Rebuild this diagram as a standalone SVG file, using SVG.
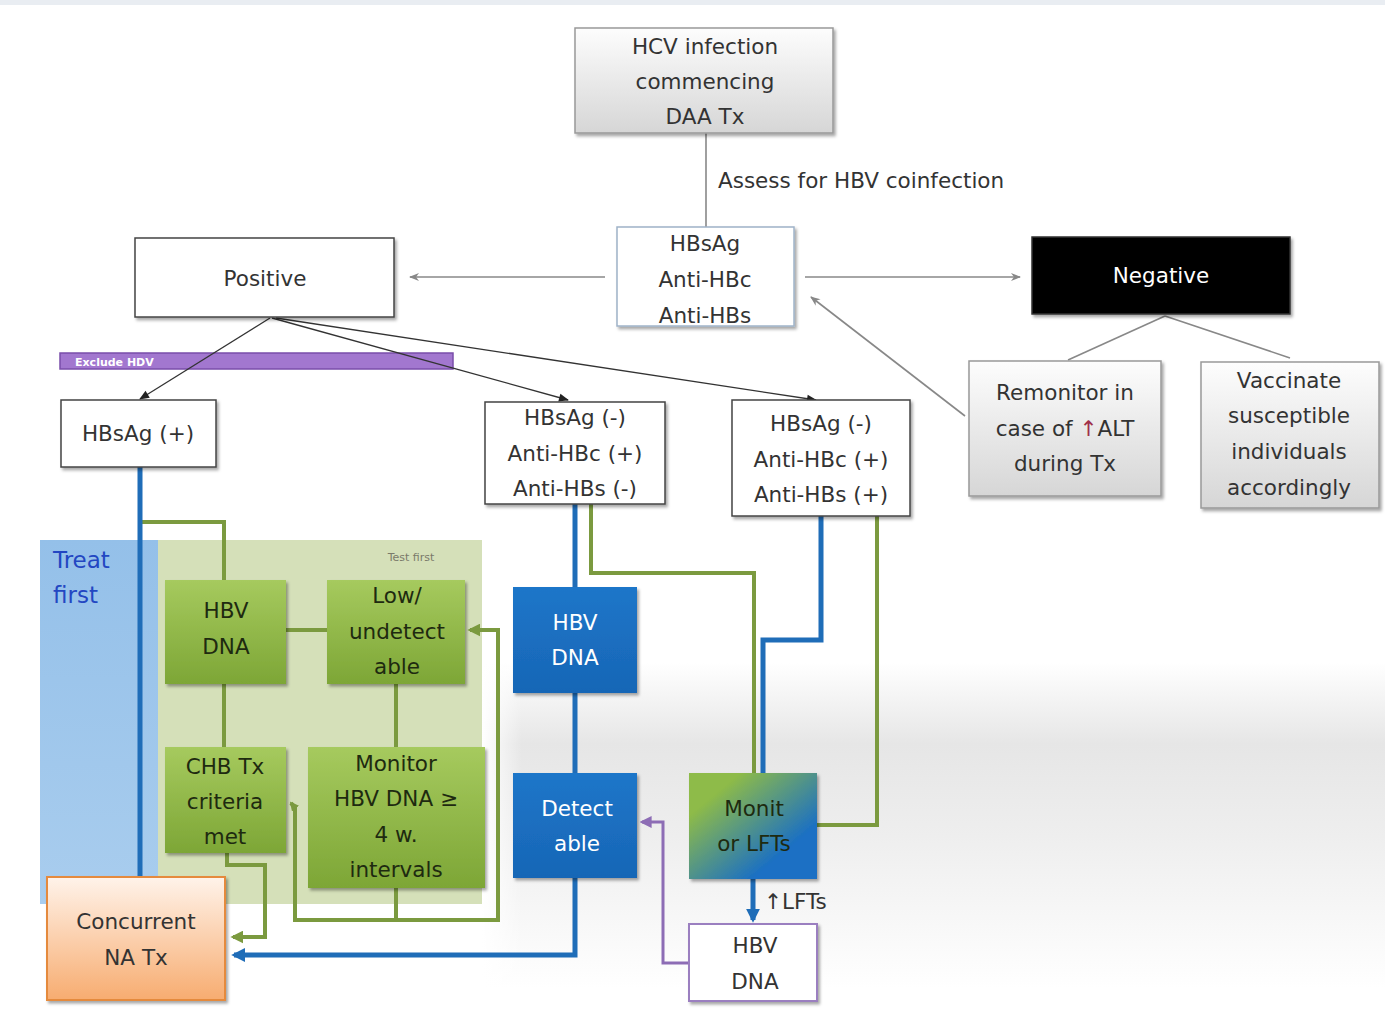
<svg xmlns="http://www.w3.org/2000/svg" width="1385" height="1019" viewBox="0 0 1385 1019">
<defs>
<style>
.t{font-family:"DejaVu Sans",Verdana,sans-serif;font-size:21.5px;fill:#333;text-anchor:middle}
.w{fill:#fff}
.dk{fill:#1e2a10}
.box{fill:#fff;stroke:#444;stroke-width:1.5}
.gbox{fill:url(#gGray);stroke:#999;stroke-width:1.5}
.grn{fill:url(#gGreen)}
.blu{fill:url(#gBlue)}
.cg{fill:none;stroke:#888;stroke-width:1.6}
.ck{fill:none;stroke:#333;stroke-width:1.3}
.cb{fill:none;stroke:#1f6db8;stroke-width:5}
.cn{fill:none;stroke:#7b9a3f;stroke-width:4}
.cp{fill:none;stroke:#8d6db5;stroke-width:3}
</style>
<linearGradient id="bg" x1="0" y1="0" x2="0" y2="1">
<stop offset="0" stop-color="#fff"/><stop offset="0.65" stop-color="#fff"/><stop offset="0.73" stop-color="#e6e6e6"/><stop offset="0.82" stop-color="#eeeeee"/><stop offset="0.9" stop-color="#f7f7f7"/><stop offset="0.97" stop-color="#fff"/>
</linearGradient>
<linearGradient id="fadeL" x1="0" y1="0" x2="1" y2="0"><stop offset="0" stop-color="#fff" stop-opacity="1"/><stop offset="1" stop-color="#fff" stop-opacity="0"/></linearGradient>
<linearGradient id="gGray" x1="0" y1="0" x2="0" y2="1"><stop offset="0" stop-color="#fdfdfd"/><stop offset="1" stop-color="#d6d6d6"/></linearGradient>
<linearGradient id="gGreen" x1="0" y1="0" x2="0" y2="1"><stop offset="0" stop-color="#a6ca5e"/><stop offset="1" stop-color="#7da636"/></linearGradient>
<linearGradient id="gBlue" x1="0" y1="0" x2="0" y2="1"><stop offset="0" stop-color="#1e76c9"/><stop offset="1" stop-color="#1766b6"/></linearGradient>
<linearGradient id="gOrange" x1="0" y1="0" x2="0" y2="1"><stop offset="0" stop-color="#fff3ea"/><stop offset="1" stop-color="#f7ac70"/></linearGradient>
<linearGradient id="gMix" x1="0" y1="0" x2="1" y2="1"><stop offset="0.2" stop-color="#8ebb48"/><stop offset="0.75" stop-color="#1a6fc4"/></linearGradient>
<linearGradient id="gTreat" x1="0" y1="0" x2="0" y2="1"><stop offset="0" stop-color="#94c0e9"/><stop offset="1" stop-color="#a9cdee"/></linearGradient>
<filter id="sh" x="-10%" y="-10%" width="130%" height="130%"><feDropShadow dx="2" dy="2.5" stdDeviation="1.5" flood-color="#000" flood-opacity="0.35"/></filter>
<marker id="aG" viewBox="0 0 10 10" refX="9" refY="5" markerWidth="13" markerHeight="10" orient="auto" markerUnits="userSpaceOnUse"><path d="M0,1 L10,5 L0,9 L3,5 z" fill="#888"/></marker>
<marker id="aK" viewBox="0 0 10 10" refX="9" refY="5" markerWidth="12" markerHeight="10" orient="auto" markerUnits="userSpaceOnUse"><path d="M0,1 L10,5 L0,9 z" fill="#222"/></marker>
<marker id="aB" viewBox="0 0 10 10" refX="8" refY="5" markerWidth="14" markerHeight="14" orient="auto" markerUnits="userSpaceOnUse"><path d="M0,0 L10,5 L0,10 z" fill="#1f6db8"/></marker>
<marker id="aN" viewBox="0 0 10 10" refX="8" refY="5" markerWidth="13" markerHeight="13" orient="auto" markerUnits="userSpaceOnUse"><path d="M0,0 L10,5 L0,10 z" fill="#7b9a3f"/></marker>
<marker id="aNs" viewBox="0 0 10 10" refX="8" refY="5" markerWidth="9" markerHeight="9" orient="auto" markerUnits="userSpaceOnUse"><path d="M0,0 L10,5 L0,10 z" fill="#7b9a3f"/></marker>
<marker id="aP" viewBox="0 0 10 10" refX="8" refY="5" markerWidth="12" markerHeight="12" orient="auto" markerUnits="userSpaceOnUse"><path d="M0,0 L10,5 L0,10 z" fill="#8d6db5"/></marker>
</defs>

<g id="background">
<rect x="0" y="0" width="1385" height="1019" fill="#fff"/>
<rect x="482" y="0" width="903" height="1019" fill="url(#bg)"/>
<rect x="482" y="0" width="40" height="1019" fill="url(#fadeL)"/>
<rect x="0" y="0" width="1385" height="5" fill="#e9edf2"/>
</g>

<g id="panels">
<rect id="treat-first" x="40" y="540" width="118" height="364" fill="url(#gTreat)"/>
<text x="53" y="568" style="font-family:'DejaVu Sans',Verdana,sans-serif;font-size:23px;fill:#2347c2">Treat</text>
<text x="53" y="603" style="font-family:'DejaVu Sans',Verdana,sans-serif;font-size:23px;fill:#2347c2">first</text>
<rect id="test-first" x="158" y="540" width="324" height="364" fill="#d5e0b9"/>
<text x="411" y="561" style="font-family:'DejaVu Sans',Verdana,sans-serif;font-size:11px;fill:#7a7a6a;text-anchor:middle">Test first</text>
<g id="exclude-hdv">
<rect x="60" y="353" width="393" height="16" fill="#a277cf" stroke="#7a4eaa" stroke-width="1.5"/>
<text x="75" y="366" style="font-family:'DejaVu Sans',Verdana,sans-serif;font-size:11px;font-weight:bold;fill:#fff">Exclude HDV</text>
</g>
</g>

<g id="connectors">
<path class="cg" d="M706,133 V227"/>
<path class="cg" d="M605,277 H410" marker-end="url(#aG)"/>
<path class="cg" d="M805,277 H1020" marker-end="url(#aG)"/>
<path class="cg" d="M965,416 L811,297" marker-end="url(#aG)"/>
<path class="cg" d="M1165,316 L1068,360"/>
<path class="cg" d="M1165,316 L1290,358"/>
<path class="ck" d="M270,318 L140,399" marker-end="url(#aK)"/>
<path class="ck" d="M272,318 L568,400" marker-end="url(#aK)"/>
<path class="ck" d="M276,318 L816,400" marker-end="url(#aK)"/>
<path class="cn" d="M140,522 H224 V580"/>
<path class="cb" d="M140,467 V877"/>
<path class="cn" d="M286,630 H327"/>
<path class="cn" d="M224,684 V747"/>
<path class="cn" d="M396,684 V747"/>
<path class="cn" d="M227,853 V865 H265 V937 H233" marker-end="url(#aN)"/>
<path class="cn" d="M396,888 V920 H498 V630 H470" marker-end="url(#aN)"/>
<path class="cn" d="M396,920 H295 V808 L291,803" marker-end="url(#aNs)"/>
<path class="cb" d="M575,504 V587"/>
<path class="cb" d="M575,693 V773"/>
<path class="cb" d="M575,878 V955 H234" marker-end="url(#aB)"/>
<path class="cn" d="M591,504 V573 H754 V773"/>
<path class="cb" d="M821,516 V640 H763 V773"/>
<path class="cn" d="M877,516 V825 H817"/>
<path class="cb" d="M753,879 V920" marker-end="url(#aB)"/>
<path class="cp" d="M689,963 H663 V822 H642" marker-end="url(#aP)"/>
</g>

<g id="hcv">
<rect class="gbox" x="575" y="28" width="258" height="105" filter="url(#sh)"/>
<text class="t" x="705" y="54">HCV infection</text>
<text class="t" x="705" y="89">commencing</text>
<text class="t" x="705" y="124">DAA Tx</text>
</g>
<text class="t" x="718" y="188" style="text-anchor:start">Assess for HBV coinfection</text>

<g id="serology">
<rect x="617" y="227" width="177" height="99" fill="#fff" stroke="#9fb3c8" stroke-width="1.5" filter="url(#sh)"/>
<text class="t" x="705" y="251">HBsAg</text>
<text class="t" x="705" y="287">Anti-HBc</text>
<text class="t" x="705" y="323">Anti-HBs</text>
</g>

<g id="positive">
<rect class="box" x="135" y="238" width="259" height="79" filter="url(#sh)"/>
<text class="t" x="265" y="286">Positive</text>
</g>

<g id="negative">
<rect x="1032" y="237" width="258" height="77" fill="#000" stroke="#333" stroke-width="1.5" filter="url(#sh)"/>
<text class="t w" x="1161" y="283">Negative</text>
</g>

<g id="remonitor">
<rect class="gbox" x="969" y="361" width="192" height="135" filter="url(#sh)"/>
<text class="t" x="1065" y="400">Remonitor in</text>
<text class="t" x="1065" y="436">case of <tspan fill="#a0304a">↑</tspan>ALT</text>
<text class="t" x="1065" y="471">during Tx</text>
</g>

<g id="vaccinate">
<rect class="gbox" x="1201" y="362" width="178" height="146" filter="url(#sh)"/>
<text class="t" x="1289" y="388">Vaccinate</text>
<text class="t" x="1289" y="423">susceptible</text>
<text class="t" x="1289" y="459">individuals</text>
<text class="t" x="1289" y="495">accordingly</text>
</g>

<g id="hbsag-pos">
<rect class="box" x="61" y="400" width="155" height="67" filter="url(#sh)"/>
<text class="t" x="138" y="441">HBsAg (+)</text>
</g>

<g id="hbsag-neg-hbs-neg">
<rect class="box" x="485" y="402" width="180" height="102" filter="url(#sh)"/>
<text class="t" x="575" y="425">HBsAg (-)</text>
<text class="t" x="575" y="461">Anti-HBc (+)</text>
<text class="t" x="575" y="496">Anti-HBs (-)</text>
</g>

<g id="hbsag-neg-hbs-pos">
<rect class="box" x="732" y="400" width="178" height="116" filter="url(#sh)"/>
<text class="t" x="821" y="431">HBsAg (-)</text>
<text class="t" x="821" y="467">Anti-HBc (+)</text>
<text class="t" x="821" y="502">Anti-HBs (+)</text>
</g>

<g id="hbv-dna-green">
<rect class="grn" x="165" y="580" width="121" height="104" filter="url(#sh)"/>
<text class="t dk" x="226" y="618">HBV</text>
<text class="t dk" x="226" y="654">DNA</text>
</g>

<g id="low-undetectable">
<rect class="grn" x="327" y="580" width="138" height="104" filter="url(#sh)"/>
<text class="t dk" x="397" y="603">Low/</text>
<text class="t dk" x="397" y="639">undetect</text>
<text class="t dk" x="397" y="674">able</text>
</g>

<g id="chb-criteria">
<rect class="grn" x="165" y="747" width="121" height="106" filter="url(#sh)"/>
<text class="t dk" x="225" y="774">CHB Tx</text>
<text class="t dk" x="225" y="809">criteria</text>
<text class="t dk" x="225" y="844">met</text>
</g>

<g id="monitor-hbv">
<rect class="grn" x="308" y="747" width="177" height="141" filter="url(#sh)"/>
<text class="t dk" x="396" y="771">Monitor</text>
<text class="t dk" x="396" y="806">HBV DNA ≥</text>
<text class="t dk" x="396" y="842">4 w.</text>
<text class="t dk" x="396" y="877">intervals</text>
</g>

<g id="concurrent">
<rect x="47" y="877" width="178" height="123" fill="url(#gOrange)" stroke="#e58a3c" stroke-width="2" filter="url(#sh)"/>
<text class="t" x="136" y="929">Concurrent</text>
<text class="t" x="136" y="965">NA Tx</text>
</g>

<g id="hbv-dna-blue">
<rect class="blu" x="513" y="587" width="124" height="106" filter="url(#sh)"/>
<text class="t w" x="575" y="630">HBV</text>
<text class="t w" x="575" y="665">DNA</text>
</g>

<g id="detectable">
<rect class="blu" x="513" y="773" width="124" height="105" filter="url(#sh)"/>
<text class="t w" x="577" y="816">Detect</text>
<text class="t w" x="577" y="851">able</text>
</g>

<g id="monitor-lfts">
<rect x="689" y="773" width="128" height="106" fill="url(#gMix)" filter="url(#sh)"/>
<text class="t dk" x="754" y="816">Monit</text>
<text class="t dk" x="754" y="851">or LFTs</text>
</g>
<text class="t" x="764" y="909" style="text-anchor:start">↑LFTs</text>

<g id="hbv-dna-purple">
<rect x="689" y="924" width="128" height="77" fill="#fff" stroke="#9b7fc0" stroke-width="2" filter="url(#sh)"/>
<text class="t" x="755" y="953">HBV</text>
<text class="t" x="755" y="989">DNA</text>
</g>
</svg>
